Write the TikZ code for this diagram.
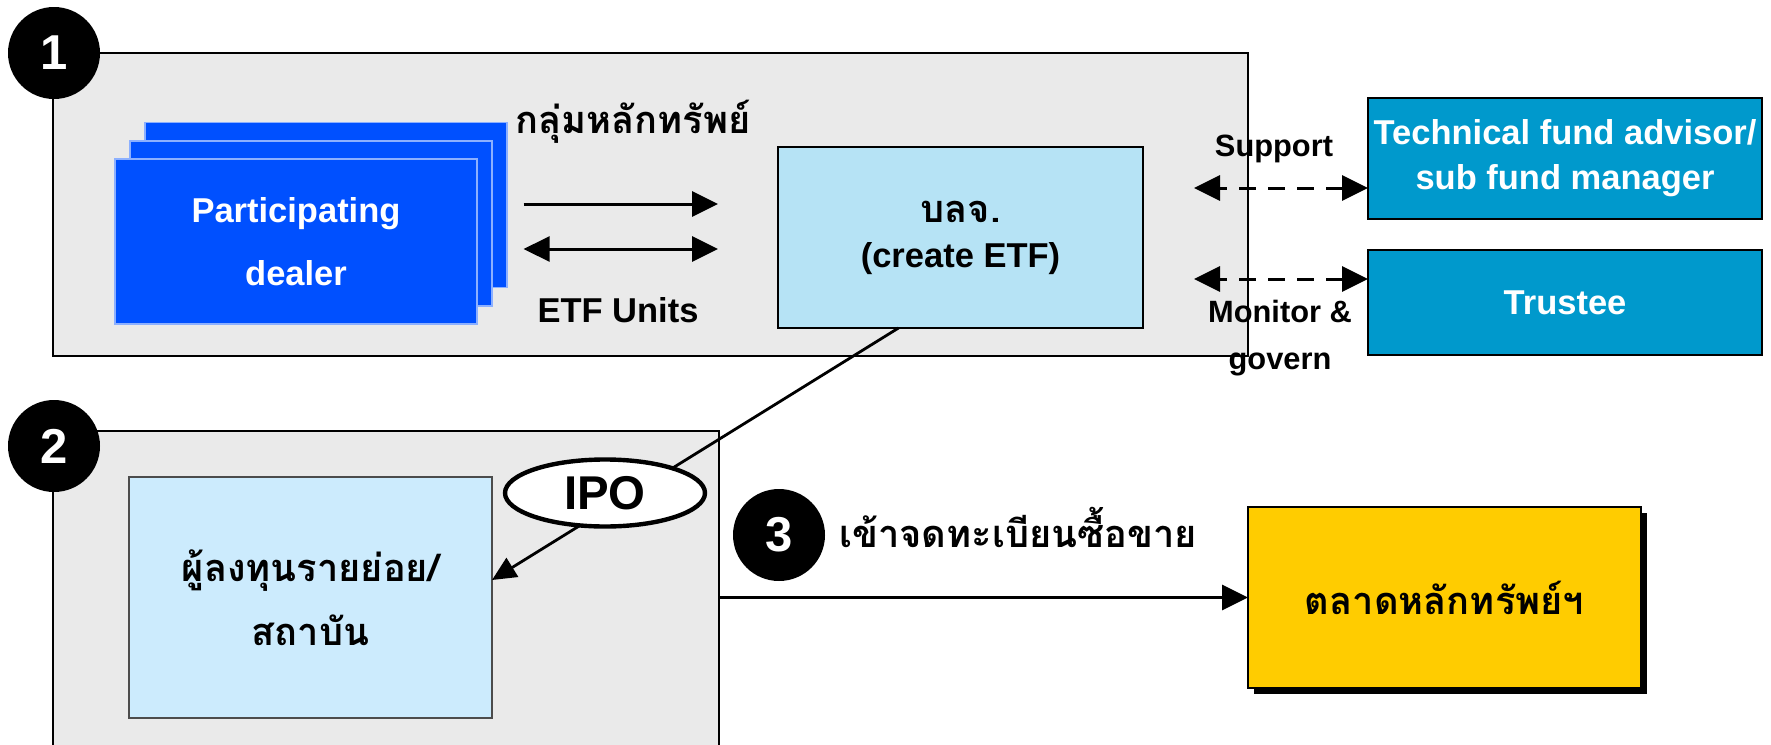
\documentclass[tikz,border=0pt]{standalone}
\usepackage{fontspec}
\setmainfont{Liberation Sans}
\newfontfamily\thaifont[Script=Thai]{Loma}
\definecolor{panelgray}{HTML}{EAEAEA}
\definecolor{dealerblue}{HTML}{0050FF}
\definecolor{fundblue}{HTML}{B6E3F5}
\definecolor{investblue}{HTML}{CCEBFD}
\definecolor{partnerteal}{HTML}{0099CC}
\definecolor{marketgold}{HTML}{FFCC00}
\usetikzlibrary{arrows.meta, shapes.geometric, shadows}

\begin{document}
\begin{tikzpicture}[x=0.5pt, y=-0.5pt,
  every node/.style={font=\bfseries\fontsize{17.25}{22.5}\selectfont},
  panel/.style={rectangle, draw=black, line width=1pt, fill=panelgray,
                inner sep=0pt, outer sep=0pt},
  stepnum/.style={circle, fill=black, text=white, minimum size=46pt, inner sep=0pt,
                  font=\bfseries\fontsize{24.5}{26}\selectfont},
  dealerbox/.style={rectangle, fill=dealerblue, draw=white!55!dealerblue, line width=0.6pt,
                    minimum width=181pt, minimum height=82.5pt, inner sep=0pt,
                    text=white, align=center, font=\bfseries\fontsize{17.25}{31.5}\selectfont},
  fundbox/.style={rectangle, draw=black, line width=0.9pt, inner sep=0pt, outer sep=0pt,
                  align=center},
  partnerbox/.style={rectangle, fill=partnerteal, draw=black, line width=0.9pt,
                     minimum width=197pt, inner sep=0pt, outer sep=0pt,
                     text=white, align=center},
  thailbl/.style={font=\thaifont\bfseries\fontsize{19}{24}\selectfont},
  smalllbl/.style={font=\bfseries\fontsize{15.4}{23.5}\selectfont, align=center},
  flowarr/.style={-{Triangle[length=13pt, width=12.5pt]}, line width=1.5pt},
  duplexarr/.style={{Triangle[length=13pt, width=12.5pt]}-{Triangle[length=13pt, width=12.5pt]},
                    line width=1.5pt},
  linkarr/.style={duplexarr, dash pattern=on 8.5pt off 6pt}
]
  \clip (0,0) rectangle (1771,744);

  \node[panel, minimum width=597.5pt, minimum height=151.5pt] (box1) at (650.5,204.5) {};
  \node[panel, minimum width=333pt, minimum height=184.5pt] (box2) at (386,615.5) {};
  \node[stepnum] (n1) at (54,53) {1};
  \node[stepnum] (n2) at (54,446) {2};

  \node[dealerbox] (pd3) at (326,205) {};
  \node[dealerbox] (pd2) at (311,223.5) {};
  \node[dealerbox] (pd1) at (296,241.5) {Participating\\dealer};

  \node[fundbox, fill=fundblue, minimum width=182.5pt, minimum height=90.5pt] (etf) at (960.5,237.5)
    {{\thaifont\fontsize{19}{22.5}\selectfont บลจ.}\\(create ETF)};

  \node[thailbl] (basket) at (633,122) {กลุ่มหลักทรัพย์};
  \node (units) at (618,310) {ETF Units};
  \draw[flowarr, shorten <=23pt, shorten >=30pt] ([yshift=18.75pt]pd1.east) -- ([yshift=16.75pt]etf.west);
  \draw[duplexarr, shorten <=23pt, shorten >=30pt] ([yshift=-3.75pt]pd1.east) -- ([yshift=-5.75pt]etf.west);

  \node[partnerbox, minimum height=60.5pt] (advisor) at (1565,158.5)
    {Technical fund advisor/\\sub fund manager};
  \node[partnerbox, minimum height=52.5pt] (trustee) at (1565,302.5) {Trustee};
  \node[smalllbl] (support) at (1274,149) {Support};
  \node[smalllbl] (monitor) at (1280,338.5) {Monitor \&\\govern};
  \draw[linkarr] ([yshift=-14.75pt]advisor.west) -- ++(-174,0);
  \draw[linkarr] ([yshift=11.75pt]trustee.west) -- ++(-174,0);

  \node[fundbox, fill=investblue, draw=black!70, line width=0.6pt, minimum width=181.5pt,
        minimum height=120.5pt, font=\thaifont\bfseries\fontsize{19}{32}\selectfont] (inv) at (310.5,597.5)
    {ผู้ลงทุนรายย่อย/\\สถาบัน};
  \draw[-{Triangle[length=12pt, width=11pt]}, line width=1.4pt]
    ([xshift=-31pt]etf.south) -- ([yshift=8.75pt]inv.east);
  \node[ellipse, draw=black, line width=2.2pt, fill=white, minimum width=100pt, minimum height=33.5pt,
        inner sep=0pt, font=\bfseries\fontsize{23.7}{26}\selectfont] (ipo) at (605,493) {IPO};

  \node[stepnum] (n3) at (779,535) {3};
  \node[thailbl] (listing) at (1018,527) {เข้าจดทะเบียนซื้อขาย};
  \node[fundbox, fill=marketgold, minimum width=196.5pt, minimum height=90.5pt,
        drop shadow={shadow xshift=3pt, shadow yshift=-3pt, fill=black, opacity=1},
        font=\thaifont\bfseries\fontsize{19}{24}\selectfont] (mkt) at (1444.5,597.5) {ตลาดหลักทรัพย์ฯ};
  \draw[flowarr] (box2.east |- mkt.west) -- (mkt.west);
\end{tikzpicture}
\end{document}
